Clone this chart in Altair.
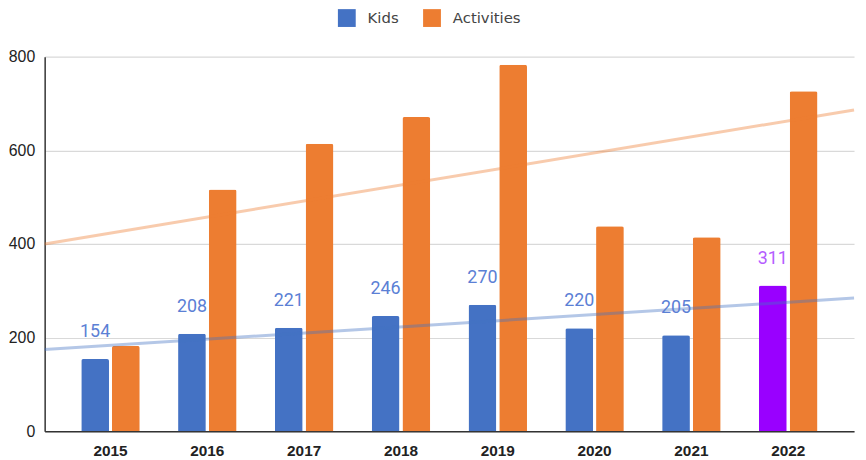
import altair as alt
import pandas as pd

years = ["2015", "2016", "2017", "2018", "2019", "2020", "2021", "2022"]
kids = [154, 208, 221, 246, 270, 220, 205, 311]
activities = [182, 516, 614, 671, 783, 438, 414, 726]
series_names = ["Kids", "Activities"]
series_colors = ["#4472c4", "#ed7d31"]
highlight_year = "2022"

rows = []
for i, y in enumerate(years):
    rows.append({"year": y, "idx": i, "series": "Kids", "value": kids[i]})
    rows.append({"year": y, "idx": i, "series": "Activities", "value": activities[i]})
df = pd.DataFrame(rows)

color_scale = alt.Scale(domain=series_names, range=series_colors)
is_hl = (alt.datum.series == "Kids") & (alt.datum.year == highlight_year)

band_scale = alt.Scale(paddingInner=0.396, paddingOuter=0.378)
x_band = alt.X(
    "year:N",
    sort=years,
    title=None,
    scale=band_scale,
    axis=alt.Axis(
        labelAngle=0, labelFont="Liberation Sans", labelFontSize=15.5,
        labelFontWeight="bold", labelColor="#222222", labelPadding=13,
        ticks=False, grid=False,
    ),
)
x_band_noaxis = alt.X("year:N", sort=years, title=None, scale=band_scale, axis=None)
x_off = alt.XOffset("series:N", sort=series_names,
                    scale=alt.Scale(domain=series_names, paddingInner=0.097))
y_enc = alt.Y(
    "value:Q",
    title=None,
    scale=alt.Scale(domain=[0, 800]),
    axis=alt.Axis(
        values=[0, 200, 400, 600, 800], labelFont="Liberation Sans",
        labelFontSize=16, labelColor="#222222", labelPadding=10, ticks=False,
        gridColor="#d9d9d9", gridWidth=1.2,
    ),
)

bars = alt.Chart(df).mark_bar(cornerRadiusTopLeft=2, cornerRadiusTopRight=2).encode(
    x=x_band,
    xOffset=x_off,
    y=y_enc,
    color=alt.condition(
        is_hl,
        alt.value("#9900ff"),
        alt.Color(
            "series:N", scale=color_scale, sort=series_names,
            legend=alt.Legend(
                title=None, orient="none", direction="horizontal", columns=2,
                legendX=296, legendY=-48, symbolType="square", symbolSize=324,
                symbolStrokeWidth=0, labelFont="DejaVu Sans", labelFontSize=15,
                labelColor="#444444", labelOffset=12, columnPadding=24,
            ),
        ),
    ),
)

labels = alt.Chart(df).transform_filter(alt.datum.series == "Kids").mark_text(
    font="Roboto", fontSize=18, baseline="alphabetic", align="center", dy=-22
).encode(
    x=x_band_noaxis,
    xOffset=x_off,
    y=y_enc,
    text=alt.Text("value:Q"),
    color=alt.condition(is_hl, alt.value("#b45cff"), alt.value("#5b80d5")),
)

ext = [-0.676, 7.676]
trend = alt.Chart(df).transform_regression(
    "idx", "value", groupby=["series"], extent=ext
).mark_line(strokeWidth=3, opacity=0.4).encode(
    x=alt.X("idx:Q", scale=alt.Scale(domain=ext, nice=False, zero=False), axis=None),
    y=y_enc,
    color=alt.Color("series:N", scale=color_scale, legend=None),
)

chart = alt.layer(bars, trend, labels).resolve_scale(x="independent").properties(
    width=817,
    height=378,
    autosize=alt.AutoSizeParams(type="none"),
    padding={"left": 37, "top": 47, "right": 4, "bottom": 30},
).configure_view(stroke=None).configure_axis(
    domain=True, domainColor="#333333", domainWidth=1.5
)

chart.save("out.html", embed_options={"renderer": "svg", "actions": False})
